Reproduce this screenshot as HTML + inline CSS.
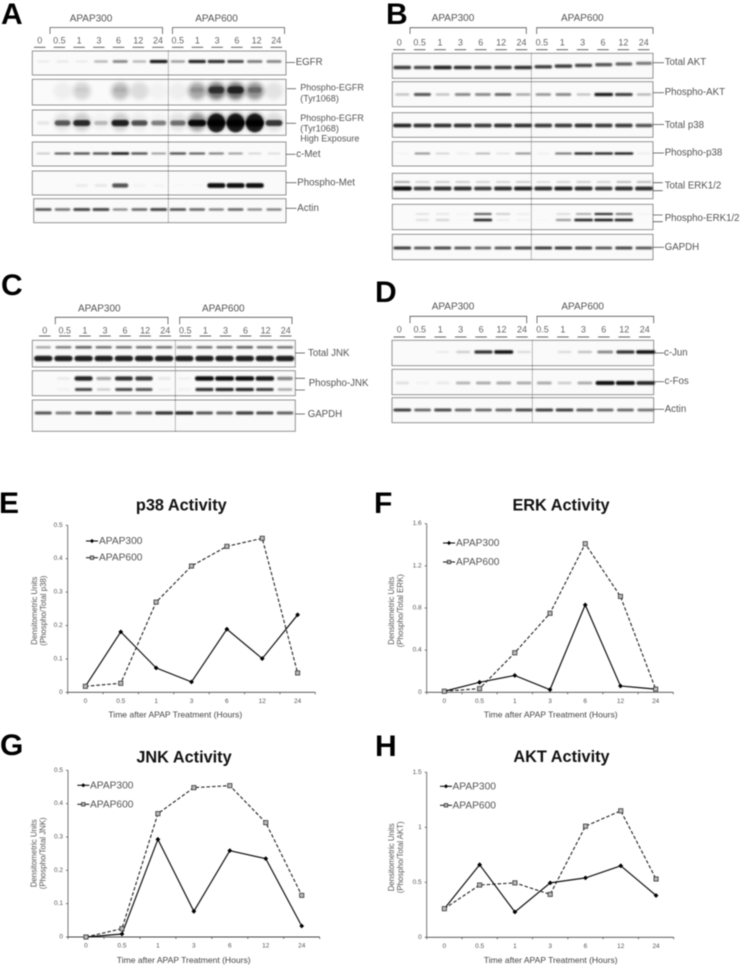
<!DOCTYPE html>
<html lang="en">
<head>
<meta charset="utf-8">
<title>APAP Western blots and kinase activity</title>
<style>
html,body{margin:0;padding:0;background:#fff;width:747px;height:966px;overflow:hidden}
svg{display:block;filter:blur(0.45px);font-family:"Liberation Sans",sans-serif}
.letter{font-size:30px;font-weight:bold;fill:#000}
.dose{font-size:10px;fill:#555;text-anchor:middle;dominant-baseline:central}
.lab{font-size:9.7px;fill:#555;dominant-baseline:central}
.lab2{font-size:9px;fill:#555;dominant-baseline:central}
.title{font-size:16.3px;font-weight:bold;fill:#111;text-anchor:middle;dominant-baseline:central}
.xt{font-size:8.56px;fill:#444;text-anchor:middle;dominant-baseline:central}
.yt{font-size:7.85px;fill:#555;text-anchor:middle}
.leg{font-size:10.2px;fill:#555;dominant-baseline:central}
.leader{stroke:#555;stroke-width:.8;fill:none}
</style>
</head>
<body>
<svg id="fig" width="747" height="966" viewBox="0 0 747 966" xmlns="http://www.w3.org/2000/svg">
<defs>
<filter id="bandBlur" x="-40%" y="-120%" width="180%" height="340%"><feGaussianBlur stdDeviation="0.85"/></filter>
<filter id="softBlur" x="-60%" y="-80%" width="220%" height="260%"><feGaussianBlur stdDeviation="2.2"/></filter>
</defs>

<text class="letter" x="1" y="24">A</text>
<text class="letter" x="386" y="24">B</text>
<text class="letter" x="1" y="295">C</text>
<text class="letter" x="375" y="302">D</text>
<text class="letter" x="-1" y="513">E</text>
<text class="letter" x="374" y="513">F</text>
<text class="letter" x="0" y="755">G</text>
<text class="letter" x="375" y="756">H</text>

<g id="blots"></g>

<g>
<text class="dose" x="91" y="19">APAP300</text>
<text class="dose" x="216.5" y="19">APAP600</text>
<path class="leader" d="M50 34V27.5H162.5V34"/>
<path class="leader" d="M172.5 34V27.5H284.5V34"/>
<text class="lab" x="295.7" y="62.5">EGFR</text>
<path class="leader" d="M286 62.5H295"/>
<text class="lab2" x="300.3" y="87.7">Phospho-EGFR</text>
<text class="lab2" x="300.3" y="98.3">(Tyr1068)</text>
<path class="leader" d="M287 88.7H296"/>
<text class="lab2" x="300.3" y="118">Phospho-EGFR</text>
<text class="lab2" x="300.3" y="128.3">(Tyr1068)</text>
<text class="lab2" x="300.3" y="138.7">High Exposure</text>
<path class="leader" d="M286 123.3H296"/>
<text class="lab" x="296.3" y="154.5">c-Met</text>
<path class="leader" d="M286 154.3H295.5"/>
<text class="lab" x="297.3" y="183">Phospho-Met</text>
<path class="leader" d="M286 182.7H296.5"/>
<text class="lab" x="297.3" y="208.3">Actin</text>
<path class="leader" d="M286 208.3H296.5"/>
</g>

<g>
<text class="dose" x="453" y="18.7">APAP300</text>
<text class="dose" x="582.3" y="18.7">APAP600</text>
<path class="leader" d="M410 34V27.7H526.3V34"/>
<path class="leader" d="M536.7 34V27.7H653V34"/>
<text class="lab" x="664.7" y="62.7">Total AKT</text>
<path class="leader" d="M653 62.7H664"/>
<text class="lab" x="664.7" y="92.7">Phospho-AKT</text>
<path class="leader" d="M653 92.7H664"/>
<text class="lab" x="664.7" y="125.3">Total p38</text>
<path class="leader" d="M653 124.5H664"/>
<text class="lab" x="664.7" y="153">Phospho-p38</text>
<path class="leader" d="M653 153H664"/>
<text class="lab" x="664.7" y="186">Total ERK1/2</text>
<path class="leader" d="M653 182.7H662.7M653 190.7H662.7"/>
<text class="lab" x="664.7" y="218.3">Phospho-ERK1/2</text>
<path class="leader" d="M653 215H662.7M653 221.7H662.7"/>
<text class="lab" x="664.7" y="247.3">GAPDH</text>
<path class="leader" d="M653 247.3H664"/>
</g>

<g>
<text class="dose" x="99.3" y="309">APAP300</text>
<text class="dose" x="223.3" y="309">APAP600</text>
<path class="leader" d="M55.3 324.3V317.3H168V324.3"/>
<path class="leader" d="M179.7 324.3V317.3H292V324.3"/>
<text class="lab" x="308" y="353.7">Total JNK</text>
<path class="leader" d="M295.3 353H305"/>
<text class="lab" x="308.7" y="383.7">Phospho-JNK</text>
<path class="leader" d="M295.3 378.3H305M295.3 390H305"/>
<text class="lab" x="307.7" y="414.7">GAPDH</text>
<path class="leader" d="M295.3 414H305"/>
</g>

<g>
<text class="dose" x="453" y="307">APAP300</text>
<text class="dose" x="582.7" y="307">APAP600</text>
<path class="leader" d="M410 323.3V316.3H526.7V323.3"/>
<path class="leader" d="M537 323.3V316.3H653.7V323.3"/>
<text class="lab" x="664" y="353">c-Jun</text>
<path class="leader" d="M653.7 353H664"/>
<text class="lab" x="664.5" y="381.7">c-Fos</text>
<path class="leader" d="M653.7 381.7H664"/>
<text class="lab" x="664.7" y="409.3">Actin</text>
<path class="leader" d="M653.7 409.3H664"/>
</g>

<g id="chart-p38">
<text class="title" x="181.3" y="505.7">p38 Activity</text>
<text class="xt" x="175.3" y="714.3">Time after APAP Treatment (Hours)</text>
<text class="yt" transform="translate(37,610.7) rotate(-90)">Densitometric Units</text>
<text class="yt" transform="translate(46,610.7) rotate(-90)">(Phospho/Total p38)</text>
<text class="leg" x="99" y="541.5">APAP300</text>
<text class="leg" x="99" y="558.2">APAP600</text>
</g>
<g id="chart-erk">
<text class="title" x="561" y="505.7">ERK Activity</text>
<text class="xt" x="550.7" y="714.3">Time after APAP Treatment (Hours)</text>
<text class="yt" transform="translate(394,610.7) rotate(-90)">Densitometric Units</text>
<text class="yt" transform="translate(403,610.7) rotate(-90)">(Phospho/Total ERK)</text>
<text class="leg" x="456" y="543.5">APAP300</text>
<text class="leg" x="456" y="562.5">APAP600</text>
</g>
<g id="chart-jnk">
<text class="title" x="184" y="757.5">JNK Activity</text>
<text class="xt" x="183.7" y="960">Time after APAP Treatment (Hours)</text>
<text class="yt" transform="translate(36.5,853.3) rotate(-90)">Densitometric Units</text>
<text class="yt" transform="translate(45.5,853.3) rotate(-90)">(Phospho/Total JNK)</text>
<text class="leg" x="90" y="786">APAP300</text>
<text class="leg" x="90" y="805">APAP600</text>
</g>
<g id="chart-akt">
<text class="title" x="561.5" y="757">AKT Activity</text>
<text class="xt" x="550.7" y="960">Time after APAP Treatment (Hours)</text>
<text class="yt" transform="translate(394,857.3) rotate(-90)">Densitometric Units</text>
<text class="yt" transform="translate(403,857.3) rotate(-90)">(Phospho/Total AKT)</text>
<text class="leg" x="452.5" y="787">APAP300</text>
<text class="leg" x="452.5" y="806">APAP600</text>
</g>
</svg>

<script>
// ---- line chart data ----
const timeCategories = ['0','0.5','1','3','6','12','24'];
const p38YTicks = ['0','0.1','0.2','0.3','0.4','0.5'];
const erkYTicks = ['0','0.4','0.8','1.2','1.6'];
const jnkYTicks = ['0','0.1','0.2','0.3','0.4','0.5'];
const aktYTicks = ['0','0.5','1','1.5'];
const p38Apap300 = [0.018,0.181,0.073,0.031,0.189,0.101,0.232];
const p38Apap600 = [0.018,0.027,0.27,0.378,0.437,0.461,0.058];
const erkApap300 = [0.01,0.095,0.16,0.025,0.83,0.06,0.03];
const erkApap600 = [0.01,0.035,0.375,0.75,1.41,0.91,0.03];
const jnkApap300 = [0,0.009,0.293,0.077,0.259,0.235,0.033];
const jnkApap600 = [0,0.025,0.37,0.448,0.454,0.343,0.125];
const aktApap300 = [0.26,0.66,0.23,0.495,0.54,0.65,0.38];
const aktApap600 = [0.26,0.475,0.495,0.39,1.01,1.15,0.53];

// ---- blot lane labels and band intensities (0-1) ----
const laneLabels = ['0','0.5','1','3','6','12','24','0.5','1','3','6','12','24'];
const egfrBand = [.06,.08,.06,.3,.5,.3,.95,.4,.9,.85,.75,.55,.5];
const pEgfrHaze = [0,.08,.25,0,.4,.2,.05,.08,.55,.9,.95,.7,.15];
const pEgfrCore = [0,0,.04,0,.08,0,0,0,.15,.65,.75,.3,0];
const highExpHaze = [0,.15,.3,.05,.3,.1,.05,.15,.7,1,1,.95,.2];
const highExpBand = [.08,.65,.85,.25,.9,.7,.5,.55,1,1,1,1,.8];
const highExpCore = [0,0,0,0,0,0,0,0,0,.85,.85,.85,0];
const cMetBand = [.25,.7,.75,.75,1,.75,.45,.75,.7,.55,.45,.2,.15];
const pMetBand = [0,0,.06,.08,.7,.03,.02,.01,.01,1,1,1,0];
const actinABand = [.75,.6,.8,.8,.5,.65,.8,.75,.65,.55,.65,.5,.55];
const totalAktBand = [.8,.75,.9,.85,.8,.8,.85,.8,.8,.75,.7,.65,.55];
const pAktBand = [.25,.7,.25,.5,.5,.65,.35,.45,.5,.25,.95,.8,.3];
const totalP38Band = [.9,.85,.85,.85,.8,.85,.85,.8,.8,.85,.8,.8,.7];
const pP38Band = [.04,.5,.2,.08,.35,.15,.5,.06,.65,.95,.95,1,.08];
const erkUpperBand = [.45,.25,.3,.3,.25,.25,.3,.2,.25,.3,.25,.35,.35];
const erkLowerBand = [1,.8,.85,.85,.8,.85,.9,.85,.9,.85,.8,.85,.85];
const pErkUpperBand = [0,.15,.12,.04,.8,.3,.08,0,.2,.45,.95,.65,.04];
const pErkLowerBand = [0,.15,.2,.02,.95,.08,.04,.02,.45,.95,1,.95,0];
const gapdhBBand = [.8,.7,.75,.7,.65,.7,.75,.8,.8,.75,.7,.75,.7];
const jnkUpperBand = [.4,.55,.65,.6,.6,.6,.6,.5,.6,.6,.65,.6,.6];
const jnkLowerBand = [.92,.92,.92,.92,.92,.92,.92,.92,.92,.92,.92,.92,.92];
const pJnkUpperBand = [0,.06,.9,.35,.85,.8,.08,.04,1,1,1,.95,.5];
const pJnkLowerBand = [0,.04,.75,.2,.75,.7,.04,.04,.85,.9,.9,.8,.35];
const gapdhCBand = [.7,.55,.7,.8,.55,.65,.85,.9,.7,.65,.8,.75,.65];
const cJunBand = [0,0,.06,.2,.85,1,.15,0,.15,.25,.5,.85,1];
const cFosBand = [.12,.04,.08,.3,.35,.35,.35,.35,.2,.35,1,1,.9];
const actinDBand = [.8,.65,.75,.65,.65,.65,.75,.8,.8,.7,.65,.65,.6];

const NS = 'http://www.w3.org/2000/svg';
function mk(parent, tag, attrs) {
  const el = document.createElementNS(NS, tag);
  for (const k in attrs) el.setAttribute(k, attrs[k]);
  parent.appendChild(el);
  return el;
}

// ---- blots ----
const blotsRoot = document.getElementById('blots');
function drawBlot(cfg) {
  const g = mk(blotsRoot, 'g', {});
  
  
  const labelX = i => cfg.labelStart + (cfg.labelEnd - cfg.labelStart) * i / 12;
  const laneX = i => cfg.laneStart + (cfg.laneEnd - cfg.laneStart) * i / 12;
  const step = (cfg.laneEnd - cfg.laneStart) / 12;
  laneLabels.forEach((t, i) => {
    const txt = mk(g, 'text', {x: labelX(i), y: cfg.labelY, 'font-size': 9, fill: '#666', 'text-anchor': 'middle', 'dominant-baseline': 'central'});
    txt.textContent = t;
    
    
    const u = mk(g, 'line', {x1: labelX(i) - 5.8, x2: labelX(i) + 5.8, y1: cfg.underY, y2: cfg.underY, stroke: '#555', 'stroke-width': .9});
    
    
  });
  cfg.panels.forEach(p => {
    const pg = mk(g, 'g', {});
    
    
    mk(pg, 'rect', {x: p.x0 || cfg.x0, y: p.y0, width: cfg.x1 - (p.x0 || cfg.x0), height: p.y1 - p.y0, fill: '#fafafa', stroke: '#888', 'stroke-width': .9});
    p.layers.forEach(l => {
      l.vals.forEach((v, i) => {
        if (v <= 0) return;
        const w = l.soft ? step * .95 : step * (.62 + .32 * v);
        const h = l.soft ? l.h : l.h * (.55 + .45 * v);
        const tilt = l.tilt && i > 6 ? l.tilt * (i - 6) : 0;
        const band = mk(pg, 'rect', {
          x: laneX(i) - w / 2, y: l.y + tilt - h / 2, width: w, height: h, rx: Math.min(w, h) / 2,
          fill: '#000', 'fill-opacity': (l.soft ? .6 : .95) * v,
          filter: l.soft ? 'url(#softBlur)' : 'url(#bandBlur)'
        });
        
        
      });
    });
  });
  const d = mk(g, 'line', {x1: cfg.divX, x2: cfg.divX, y1: cfg.panels[0].y0, y2: cfg.panels[cfg.panels.length - 1].y1, stroke: '#444', 'stroke-width': .7, 'stroke-dasharray': '1 1'});
  
  
}

drawBlot({name: 'blot-a', x0: 32.3, x1: 286, divX: 168.3, labelStart: 39.7, labelEnd: 276.3, laneStart: 43.3, laneEnd: 274, labelY: 40.7, underY: 47.3, panels: [
  {name: 'egfr-blot', y0: 51, y1: 75, layers: [{y: 61.5, h: 3.4, vals: egfrBand}]},
  {name: 'phospho-egfr-blot', y0: 79.3, y1: 105, layers: [{y: 91, h: 17, soft: true, vals: pEgfrHaze}, {y: 90, h: 8, vals: pEgfrCore}]},
  {name: 'phospho-egfr-high-exposure-blot', y0: 110, y1: 135.3, layers: [{y: 122, h: 18, soft: true, vals: highExpHaze}, {y: 123, h: 6.5, vals: highExpBand}, {y: 123, h: 20, vals: highExpCore}]},
  {name: 'c-met-blot', y0: 142, y1: 166, layers: [{y: 153.5, h: 2.4, vals: cMetBand}]},
  {name: 'phospho-met-blot', y0: 171, y1: 195, layers: [{y: 185.5, h: 4.8, vals: pMetBand}]},
  {name: 'actin-a-blot', x0: 33.7, y0: 198.7, y1: 222.7, layers: [{y: 209.5, h: 2.9, vals: actinABand}]}
]});
drawBlot({name: 'blot-b', x0: 392.3, x1: 653, divX: 531.3, labelStart: 399.3, labelEnd: 643.7, laneStart: 402.3, laneEnd: 644, labelY: 42.7, underY: 49.7, panels: [
  {name: 'total-akt-blot', y0: 53.3, y1: 78.3, layers: [{y: 67.5, h: 3.8, tilt: -.7, vals: totalAktBand}]},
  {name: 'phospho-akt-blot', y0: 81.7, y1: 106.7, layers: [{y: 94.5, h: 3.4, vals: pAktBand}]},
  {name: 'total-p38-blot', y0: 112.7, y1: 137.3, layers: [{y: 125.5, h: 4, vals: totalP38Band}]},
  {name: 'phospho-p38-blot', y0: 141.7, y1: 166, layers: [{y: 153.5, h: 2.2, vals: pP38Band}]},
  {name: 'total-erk-blot', y0: 173.3, y1: 198.7, layers: [{y: 182, h: 2, vals: erkUpperBand}, {y: 188.5, h: 4.2, vals: erkLowerBand}]},
  {name: 'phospho-erk-blot', y0: 204.3, y1: 229.7, layers: [{y: 214, h: 2, vals: pErkUpperBand}, {y: 220, h: 2.6, vals: pErkLowerBand}]},
  {name: 'gapdh-b-blot', y0: 234.3, y1: 259.7, layers: [{y: 248, h: 3.3, vals: gapdhBBand}]}
]});
drawBlot({name: 'blot-c', x0: 32.3, x1: 295.3, divX: 175.3, labelStart: 44.7, labelEnd: 285.7, laneStart: 43.3, laneEnd: 285, labelY: 330.7, underY: 336, panels: [
  {name: 'total-jnk-blot', y0: 340.3, y1: 367, layers: [{y: 347.3, h: 3, vals: jnkUpperBand}, {y: 358.5, h: 5.8, vals: jnkLowerBand}]},
  {name: 'phospho-jnk-blot', y0: 370.7, y1: 395.7, layers: [{y: 378.5, h: 4.6, vals: pJnkUpperBand}, {y: 389.5, h: 3.4, vals: pJnkLowerBand}]},
  {name: 'gapdh-c-blot', y0: 400, y1: 431.3, layers: [{y: 413, h: 3.5, vals: gapdhCBand}]}
]});
drawBlot({name: 'blot-d', x0: 392, x1: 653.7, divX: 532.3, labelStart: 399.3, labelEnd: 644.7, laneStart: 402.3, laneEnd: 645.7, labelY: 329.7, underY: 337, panels: [
  {name: 'c-jun-blot', y0: 340.3, y1: 365.7, layers: [{y: 352, h: 3.4, vals: cJunBand}]},
  {name: 'c-fos-blot', y0: 369.3, y1: 394.7, layers: [{y: 383, h: 4, vals: cFosBand}]},
  {name: 'actin-d-blot', y0: 397.7, y1: 422.7, layers: [{y: 410, h: 3.3, vals: actinDBand}]}
]});

// ---- line charts ----
function drawChart(cfg) {
  const g = document.getElementById(cfg.id);
  const n = timeCategories.length;
  const band = (cfg.x1 - cfg.x0) / n;
  const xScale = i => cfg.x0 + band * (i + .5);
  const yMax = parseFloat(cfg.yTicks[cfg.yTicks.length - 1]);
  const yScale = v => cfg.yBase + (cfg.yTop - cfg.yBase) * v / yMax;

  const yAxis = mk(g, 'line', {x1: cfg.x0, x2: cfg.x0, y1: cfg.yTop, y2: cfg.yBase, stroke: '#555', 'stroke-width': .8});
  
  
  const xAxis = mk(g, 'line', {x1: cfg.x0, x2: cfg.x1, y1: cfg.yBase, y2: cfg.yBase, stroke: '#444', 'stroke-width': .9});
  
  

  cfg.yTicks.forEach(t => {
    const y = yScale(parseFloat(t));
    const tick = mk(g, 'line', {x1: cfg.x0 - 2, x2: cfg.x0, y1: y, y2: y, stroke: '#555', 'stroke-width': .8});
    
    
    const lab = mk(g, 'text', {x: cfg.x0 - 5, y: y, 'font-size': 6.5, fill: '#555', 'text-anchor': 'end', 'dominant-baseline': 'central'});
    lab.textContent = t;
    
    
  });
  for (let i = 0; i <= n; i++) {
    const x = cfg.x0 + band * i;
    const tick = mk(g, 'line', {x1: x, x2: x, y1: cfg.yBase, y2: cfg.yBase + 2, stroke: '#555', 'stroke-width': .8});
    
    
  }
  timeCategories.forEach((t, i) => {
    const lab = mk(g, 'text', {x: xScale(i), y: cfg.yBase + 9, 'font-size': 6.5, fill: '#555', 'text-anchor': 'middle', 'dominant-baseline': 'central'});
    lab.textContent = t;
    
    
  });

  const pts = vals => vals.map((v, i) => xScale(i) + ',' + yScale(v)).join(' ');
  const dashed = mk(g, 'polyline', {points: pts(cfg.apap600), fill: 'none', stroke: '#222', 'stroke-width': 1.1, 'stroke-dasharray': '3.5 2'});
  
  
  const solid = mk(g, 'polyline', {points: pts(cfg.apap300), fill: 'none', stroke: '#111', 'stroke-width': 1.2});
  
  

  const diamond = (cx, cy, r) => mk(g, 'polygon', {points: `${cx},${cy - r} ${cx + r},${cy} ${cx},${cy + r} ${cx - r},${cy}`, fill: '#000'});
  const square = (cx, cy, s) => mk(g, 'rect', {x: cx - s / 2, y: cy - s / 2, width: s, height: s, fill: '#bbb', stroke: '#333', 'stroke-width': .8});

  cfg.apap300.forEach((v, i) => {
    const m = diamond(xScale(i), yScale(v), 2.4);
    
    
  });
  cfg.apap600.forEach((v, i) => {
    const m = square(xScale(i), yScale(v), 4.2);
    
    
  });

  // legend keys
  const k1 = mk(g, 'line', {x1: cfg.legX, x2: cfg.legX + 12, y1: cfg.legY1, y2: cfg.legY1, stroke: '#111', 'stroke-width': 1.1});
  
  
  const k1m = diamond(cfg.legX + 6, cfg.legY1, 2.1);
  
  
  const k2 = mk(g, 'line', {x1: cfg.legX, x2: cfg.legX + 12, y1: cfg.legY2, y2: cfg.legY2, stroke: '#222', 'stroke-width': 1.1});
  
  
  const k2m = square(cfg.legX + 6, cfg.legY2, 3.4);
  
  
}

drawChart({id: 'chart-p38', x0: 67.7, x1: 315.3, yTop: 525.3, yBase: 692.3, yTicks: p38YTicks, apap300: p38Apap300, apap600: p38Apap600, legX: 86, legY1: 541, legY2: 557.7});
drawChart({id: 'chart-erk', x0: 426.7, x1: 673.3, yTop: 523.7, yBase: 692.3, yTicks: erkYTicks, apap300: erkApap300, apap600: erkApap600, legX: 443, legY1: 543, legY2: 562});
drawChart({id: 'chart-jnk', x0: 68, x1: 319.7, yTop: 770.3, yBase: 937, yTicks: jnkYTicks, apap300: jnkApap300, apap600: jnkApap600, legX: 77.3, legY1: 785.3, legY2: 804.3});
drawChart({id: 'chart-akt', x0: 426.7, x1: 673.7, yTop: 772.3, yBase: 937.3, yTicks: aktYTicks, apap300: aktApap300, apap600: aktApap600, legX: 440, legY1: 786.3, legY2: 805.3});
</script>
</body>
</html>
